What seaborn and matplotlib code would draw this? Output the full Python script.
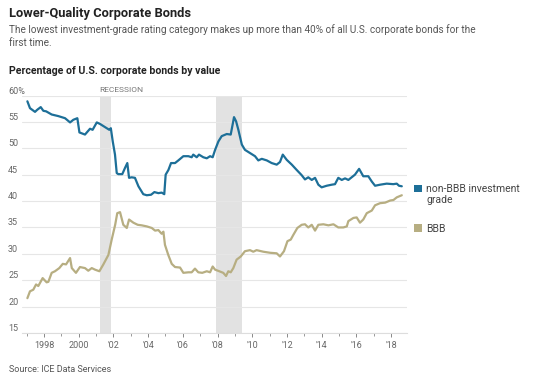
import numpy as np
import pandas as pd
import matplotlib.pyplot as plt
import seaborn as sns
from matplotlib.patches import Patch

# Values (decimal year, percent)
nonbbb_year = [1997.04, 1997.19, 1997.48, 1997.61, 1997.81, 1997.96, 1998.12, 1998.44, 1998.82,
               1999.21, 1999.5, 1999.69, 1999.92, 2000.04, 2000.36, 2000.65, 2000.8, 2001.04,
               2001.23, 2001.52, 2001.76, 2001.85, 2001.96, 2002.09, 2002.19, 2002.28, 2002.51,
               2002.67, 2002.8, 2002.9, 2003.05, 2003.24, 2003.44, 2003.72, 2003.92, 2004.17,
               2004.36, 2004.59, 2004.78, 2004.93, 2005.01, 2005.17, 2005.32, 2005.55, 2005.74,
               2006.03, 2006.32, 2006.51, 2006.6, 2006.8, 2006.93, 2007.18, 2007.38, 2007.57,
               2007.72, 2007.86, 2008.05, 2008.24, 2008.53, 2008.76, 2008.87, 2008.95, 2009.07,
               2009.2, 2009.4, 2009.58, 2009.87, 2010.16, 2010.35, 2010.55, 2010.84, 2011.12,
               2011.41, 2011.6, 2011.76, 2011.99, 2012.28, 2012.56, 2012.85, 2013.04, 2013.23,
               2013.43, 2013.62, 2013.81, 2014.0, 2014.29, 2014.58, 2014.77, 2014.96, 2015.16,
               2015.35, 2015.54, 2015.73, 2015.92, 2016.16, 2016.4, 2016.69, 2016.89, 2017.08,
               2017.37, 2017.75, 2018.13, 2018.33, 2018.46, 2018.62]
nonbbb_pct = [58.9, 57.6, 56.9, 57.3, 57.8, 57.1, 57.0, 56.4, 56.1,
              55.7, 54.9, 55.4, 55.7, 53.0, 52.6, 53.7, 53.5, 54.9,
              54.6, 54.0, 53.5, 53.8, 51.3, 48.8, 45.3, 45.1, 45.1,
              46.3, 47.2, 44.4, 44.5, 44.4, 42.8, 41.3, 41.1, 41.2,
              41.7, 41.5, 41.6, 41.3, 45.0, 45.9, 47.2, 47.2, 47.7,
              48.5, 48.5, 48.3, 48.8, 48.3, 48.8, 48.3, 48.1, 48.5,
              48.3, 49.7, 51.3, 52.3, 52.7, 52.6, 54.5, 55.9, 55.1,
              53.5, 50.7, 49.7, 49.1, 48.5, 47.7, 48.0, 47.7, 47.2,
              46.9, 47.4, 48.8, 47.8, 46.9, 45.9, 44.9, 44.1, 44.5,
              44.0, 44.4, 43.1, 42.6, 42.9, 43.1, 43.2, 44.4, 44.0,
              44.3, 44.0, 44.5, 45.0, 46.1, 44.7, 44.7, 43.7, 42.9,
              43.1, 43.3, 43.2, 43.3, 42.9, 42.8]

bbb_year = [1997.04, 1997.19, 1997.38, 1997.54, 1997.67, 1997.92, 1998.15, 1998.25, 1998.44,
            1998.63, 1998.88, 1999.08, 1999.27, 1999.5, 1999.6, 1999.84, 2000.07, 2000.36,
            2000.55, 2000.75, 2000.94, 2001.19, 2001.42, 2001.71, 2001.9, 2002.1, 2002.22,
            2002.38, 2002.57, 2002.77, 2002.9, 2003.15, 2003.4, 2003.63, 2003.92, 2004.21,
            2004.4, 2004.59, 2004.78, 2004.88, 2004.97, 2005.16, 2005.36, 2005.55, 2005.84,
            2006.03, 2006.32, 2006.51, 2006.7, 2006.89, 2007.12, 2007.38, 2007.57, 2007.72,
            2007.86, 2008.1, 2008.33, 2008.49, 2008.62, 2008.76, 2008.91, 2009.1, 2009.34,
            2009.58, 2009.87, 2010.06, 2010.25, 2010.64, 2011.03, 2011.41, 2011.6, 2011.83,
            2012.03, 2012.22, 2012.37, 2012.6, 2012.85, 2013.04, 2013.23, 2013.43, 2013.62,
            2013.81, 2014.1, 2014.39, 2014.68, 2014.96, 2015.25, 2015.45, 2015.54, 2015.83,
            2016.02, 2016.21, 2016.4, 2016.6, 2016.89, 2017.08, 2017.37, 2017.66, 2017.95,
            2018.14, 2018.33, 2018.62]
bbb_pct = [21.6, 22.9, 23.2, 24.2, 23.9, 25.4, 24.6, 24.7, 26.4,
           26.7, 27.3, 28.1, 28.0, 29.2, 27.3, 26.4, 27.5, 27.3,
           26.8, 27.3, 27.0, 26.7, 28.0, 29.8, 32.7, 35.5, 37.7,
           37.9, 35.5, 34.9, 36.5, 35.9, 35.5, 35.4, 35.2, 34.9,
           34.4, 34.5, 33.8, 34.2, 31.7, 29.8, 28.1, 27.5, 27.4,
           26.4, 26.5, 26.5, 27.2, 26.5, 26.4, 26.7, 26.5, 27.6,
           27.0, 26.7, 26.4, 25.8, 26.7, 26.5, 27.3, 28.9, 29.5,
           30.5, 30.7, 30.4, 30.7, 30.4, 30.2, 30.1, 29.5, 30.5,
           32.4, 32.7, 33.6, 34.9, 35.5, 35.6, 35.0, 35.5, 34.4,
           35.5, 35.6, 35.4, 35.6, 35.0, 35.0, 35.2, 36.2, 36.8,
           36.9, 35.9, 36.5, 37.7, 38.2, 39.2, 39.6, 39.7, 40.1,
           40.2, 40.7, 41.1]

recessions = [(2001.2, 2001.86), (2007.92, 2009.42)]
y_ticks = [15, 20, 25, 30, 35, 40, 45, 50, 55, 60]
y_labels = ["15", "20", "25", "30", "35", "40", "45", "50", "55", "60%"]
x_major = list(range(1998, 2019, 2))
x_labels = ["1998", "2000", "'02", "'04", "'06", "'08", "'10", "'12", "'14", "'16", "'18"]
x_minor = list(range(1997, 2018, 2))

series_names = ["non-BBB investment\ngrade", "BBB"]
colors = ["#1d6f98", "#b7ae82"]

df = pd.concat([
    pd.DataFrame({"year": nonbbb_year, "pct": nonbbb_pct, "series": series_names[0]}),
    pd.DataFrame({"year": bbb_year, "pct": bbb_pct, "series": series_names[1]}),
])

sns.set_theme(style="white")
plt.rcParams["font.family"] = ["Roboto", "DejaVu Sans"]

fig = plt.figure(figsize=(5.38, 3.82), dpi=100)
ax = fig.add_axes([22 / 538, 49 / 382, 385 / 538, 237.5 / 382])

for start, end in recessions:
    ax.axvspan(start, end, color="#e2e2e2", lw=0, zorder=0)

sns.lineplot(data=df, x="year", y="pct", hue="series", palette=colors,
             linewidth=1.6, legend=False, ax=ax, zorder=3)

ax.set_xlim(1996.73, 2018.92)
ax.set_ylim(15, 60)
ax.set_yticks(y_ticks)
ax.set_yticklabels(y_labels)
ax.set_xticks(x_major)
ax.set_xticklabels(x_labels)
ax.set_xticks(x_minor, minor=True)
ax.grid(axis="y", color="#e6e6e6", linewidth=0.8)
ax.set_axisbelow(True)
for s in ["top", "right", "left"]:
    ax.spines[s].set_visible(False)
ax.spines["bottom"].set_color("#dddddd")
ax.spines["bottom"].set_linewidth(0.8)
ax.set_xlabel("")
ax.set_ylabel("")

ax.tick_params(axis="y", length=0, pad=10, labelsize=6.5, labelcolor="#666666")
ax.tick_params(axis="x", which="major", length=3, width=0.7, color="#888888",
               pad=3, labelsize=6.5, labelcolor="#666666", bottom=True)
ax.tick_params(axis="x", which="minor", length=1.8, width=0.7, color="#999999", bottom=True)
for lab in ax.get_yticklabels():
    lab.set_horizontalalignment("left")
    lab.set_verticalalignment("bottom")

ax.text(recessions[0][0], 60.4, "RECESSION", fontsize=6, color="#777777",
        ha="left", va="bottom")

handles = [Patch(facecolor=c, edgecolor="none") for c in colors]
leg = ax.legend(handles, series_names, loc="upper left", bbox_to_anchor=(1.0, 0.66),
                frameon=False, fontsize=7.5, handlelength=0.75, handleheight=0.75,
                handletextpad=0.4, labelspacing=1.8, labelcolor="#444444",
                borderaxespad=0.3)
# put the first square level with the first line of its two-line label
first = leg.get_patches()[0]
first.set_y(first.get_y() + 4.5)

fig.text(9 / 538, 1 - 13 / 382, "Lower-Quality Corporate Bonds", fontsize=9.3,
         fontweight="bold", color="#222222", va="center")
fig.text(9 / 538, 1 - 36 / 382,
         "The lowest investment-grade rating category makes up more than 40% of all U.S. corporate bonds for the\nfirst time.",
         fontsize=7.2, color="#555555", va="center", linespacing=1.45)
fig.text(9 / 538, 1 - 71 / 382, "Percentage of U.S. corporate bonds by value", fontsize=7.6,
         fontweight="bold", color="#222222", va="center")
fig.text(9 / 538, 1 - 369 / 382, "Source: ICE Data Services", fontsize=6.5,
         color="#555555", va="center")

fig.savefig("out.png", dpi=100)
